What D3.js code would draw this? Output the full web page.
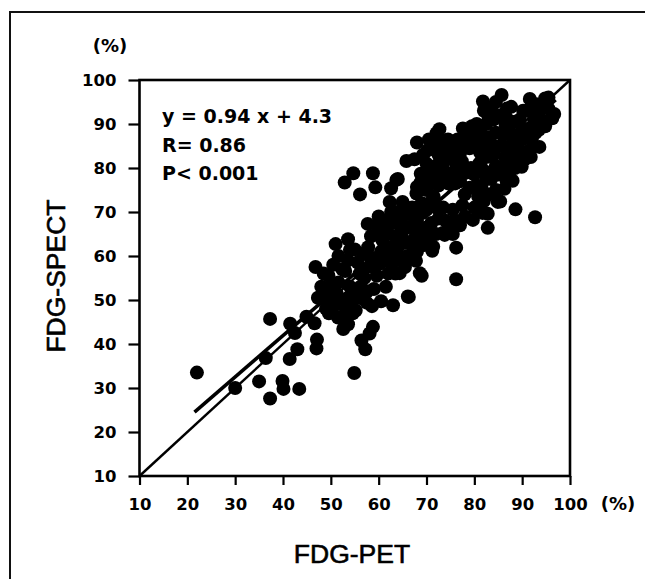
<!DOCTYPE html>
<html><head><meta charset="utf-8">
<script src="https://cdn.jsdelivr.net/npm/d3@7/dist/d3.min.js"></script>
<style>
html,body{margin:0;padding:0;background:#fff;}
svg{display:block;}
</style></head>
<body>
<svg id="chart" width="645" height="579"></svg>
<script>
// ---- data ----
const xTicks = [10,20,30,40,50,60,70,80,90,100];
const yTicks = [10,20,30,40,50,60,70,80,90,100];
const petValues = [
 22,30,35,37.3,37.3,36.4,39.9,40.1,43.4,41.4,43,41.5,42.5,44.9,46.6,47.1,47,54.9,56.4,57.2,58.1,58.8,63,66.3,76.2,76.2,82.8,88.6,92.7,
 52.9,54.7,56.1,58.8,59.3,63.7,62.6,65.8,68,72.1,72.7,
 81.8,85.7,87.7,91.6,94.8,96.3,96.7,93.6,89.9,
 47.3,46.8,48.5,48,49,48.6,
 49.6,50,49.8,49.5,50.5,50.5,
 51,51.6,52.4,51.6,51.2,52.2,51.5,52.6,52.6,
 53.6,54,53.6,53,54,53.6,54,53.6,54.6,
 55,55.6,56,56.2,55,56.4,55.2,
 57.5,58.6,57.6,58.1,58.2,57.7,58.4,57.8,
 60.5,59.6,60.2,60.5,59.6,60,59.8,
 61.3,62,62.5,61.5,62,61.5,62.3,62.6,
 63.5,64.4,63.6,64,63.5,64.5,63.5,65,64,
 65.5,66,65.5,66,66.5,65.5,66.1,
 67.8,68.6,69,68,67.5,68.9,68,69.2,67.9,68,68.8,67.5,
 71.2,70,71,70,70.6,70,70.6,70,70.2,70.5,
 71.4,73.4,72,72.5,72,72.5,71.5,72,72.5,71.5,72.8,
 73.8,74,73.5,74.5,74,73.5,74,74.5,
 75.5,76,75.5,76,75.5,76,75.5,76.5,
 78,77.5,78,77,78.5,77.4,77.5,77.6,78.5,
 79.7,80,80.5,80,81,80.5,80,79.5,
 81.7,82.8,82,81.5,82.5,81.5,82.5,82,81.5,82.5,82,
 84.9,84.5,83.5,84.5,84,83.5,84.5,84,83.5,
 85.4,86.3,86.7,85.5,86.5,85.5,86,86.5,85.5,
 88,88.5,87.5,88,87.5,88.5,
 90.5,89.5,90,90.5,89.5,
 91.5,92,91.5,92.5,91,
 93.5,94,93.5,
 95.5,
 56.8,57,59,61.5,
 60.8,62.8,63,64.8,65,61.2,64.5,
 67,69.5,67,70,67,69,68.8,70.8,69.3,71.5,
 74.8,77,76.8,73,74.8,77,73.2,
 79,80.8,83,83,79.3,81.2,79,83,80.5,83,79.5,
 87.2,85,87,87,89,89,87,86.8,84.5,
 92.8,94.8,95.5,93,90.2,91.8
];
const spectValues = [
 33.5,30,31.5,27.6,45.7,36.8,31.6,29.8,29.8,36.6,38.8,44.6,42.5,46.2,44.7,41,39,33.4,40.8,38.8,42.4,43.9,48.8,50.7,54.7,61.9,66.4,70.6,68.8,
 76.7,78.8,74,78.8,75.6,77.3,75.4,81.6,85.8,87.9,88.8,
 95.1,96.6,93.9,95.7,95.8,91.3,92.3,84.8,80.3,
 50.5,57.5,56,53,48,50.8,
 47,50.3,53,55.5,58,48.5,
 62.7,60,57,54,51.5,49,46,43.4,46.2,
 63.8,61.4,59,56.6,53,50.5,48,44.5,47,
 61.5,58.5,56,53,50.5,50.4,47.6,
 49.4,48.6,52,57.6,59.8,67.3,64.5,62,
 49.7,55.5,58.2,61,65.2,69,67,
 59.3,56,58.5,62.2,65,68,72.3,70,
 56,56.1,59,62,64.5,67,70,72.3,77.5,
 57.5,60,63,66.5,69.5,71.2,50.8,
 58.9,56.1,55.5,61,64,65.5,68,69.8,74.2,75.7,78.7,82,
 61.2,64,67.5,70.5,72,75,79.5,81,84,86.5,
 62.1,65.2,65,68.5,71,76,78,80.5,83,85,78.5,
 64.8,68,71,76.5,78.8,81,84,86.5,
 65,68,70.5,76.5,79,81.5,84,86.5,
 69,71.5,74,77,79,81.5,85,89,87,
 68.2,71,76,78.5,81,85.5,88,86.5,
 69.8,69.6,72.5,75.5,77.5,80,82.5,85,87.5,90,93,
 72.3,75,77.5,80.5,83,85.5,88,91,93.5,
 72.4,75.3,77.3,80,82.5,85,87.5,90,92,
 77.1,80,82.5,85,88,90.5,
 82,84,86.5,88.5,91,
 84,86.5,89,91,93,
 88.7,91,93,
 96,
 60.5,55,52.5,53,
 63.5,61,67.5,64.5,69,66.5,59.5,
 62.5,62.5,66.5,66.5,71,72,76.8,77.2,83,73.5,
 66.5,67,79.5,79.8,82.5,83.3,86,
 75.5,73.5,74,79,80,83.5,84.5,87,90,91.5,89.5,
 78.5,78.5,80.5,84,82.5,87.5,91,93.5,95,
 88,89.5,93.5,94.5,93,82.5
];
const regSlope = 0.94, regIntercept = 4.3, regFrom = 21.5, regTo = 97;
const statLines = ["y = 0.94 x + 4.3", "R= 0.86", "P< 0.001"];

// ---- drawing ----
const svg = d3.select("#chart");
const x = d3.scaleLinear().domain([10,100]).range([139.5,570]);
const y = d3.scaleLinear().domain([10,100]).range([476,80]);
const tickFont = "'DejaVu Sans', sans-serif";

// outer figure frame
svg.append("path").attr("d","M10,579 L10,12 L645,12")
  .attr("fill","none").attr("stroke","#111").attr("stroke-width",2);

// identity and regression lines (beneath the dots)
const rl = [[regFrom, regSlope*regFrom+regIntercept],[regTo, regSlope*regTo+regIntercept]];
const line = d3.line().x(d=>x(d[0])).y(d=>y(d[1]));
svg.append("path").attr("d",line([[10,10],[100,100]])).attr("stroke","#000").attr("stroke-width",2.4).attr("fill","none");
svg.append("path").attr("d",line(rl)).attr("stroke","#000").attr("stroke-width",3.6).attr("fill","none");

// dots
const pts = petValues.map((v,i)=>[v, spectValues[i]]);
svg.append("g").selectAll("circle").data(pts).join("circle")
  .attr("cx",d=>x(d[0])).attr("cy",d=>y(d[1])).attr("r",7).attr("fill","#000");

// plot frame
svg.append("rect").attr("x",x(10)).attr("y",y(100)).attr("width",x(100)-x(10)).attr("height",y(10)-y(100))
  .attr("fill","none").attr("stroke","#000").attr("stroke-width",2.6);

// axes
const xa = svg.append("g").attr("transform",`translate(0,${y(10)})`)
  .call(d3.axisBottom(x).tickValues(xTicks).tickSize(9).tickPadding(13).tickFormat(d3.format("d")));
const ya = svg.append("g").attr("transform",`translate(${x(10)},0)`)
  .call(d3.axisLeft(y).tickValues(yTicks).tickSize(11).tickPadding(12).tickFormat(d3.format("d")));
[xa,ya].forEach(g=>{
  g.select(".domain").remove();
  g.selectAll(".tick line").attr("stroke","#000").attr("stroke-width",2.2);
  g.selectAll(".tick text").attr("fill","#000").style("font-family",tickFont)
   .style("font-weight","bold").style("font-size","16.5px");
});

// unit labels
svg.append("text").attr("x",110).attr("y",52).attr("text-anchor","middle")
  .style("font-family",tickFont).style("font-weight","bold").style("font-size","18px").text("(%)");
svg.append("text").attr("x",618).attr("y",510).attr("text-anchor","middle")
  .style("font-family",tickFont).style("font-weight","bold").style("font-size","18px").text("(%)");

// stats
svg.append("g").selectAll("text").data(statLines).join("text")
  .attr("x",162).attr("y",(d,i)=>123.3+i*28.4)
  .style("font-family",tickFont).style("font-weight","bold").style("font-size","19px").text(d=>d);

// axis titles
svg.append("text").attr("x",352).attr("y",563).attr("text-anchor","middle")
  .style("font-family","'Liberation Sans', Arial, sans-serif").style("font-size","26.5px")
  .attr("stroke","#000").attr("stroke-width",0.6).text("FDG-PET");
svg.append("text").attr("transform","translate(65,276) rotate(-90)").attr("text-anchor","middle")
  .style("font-family","'Liberation Sans', Arial, sans-serif").style("font-size","26.5px")
  .attr("stroke","#000").attr("stroke-width",0.6).text("FDG-SPECT");
</script>
</body></html>
